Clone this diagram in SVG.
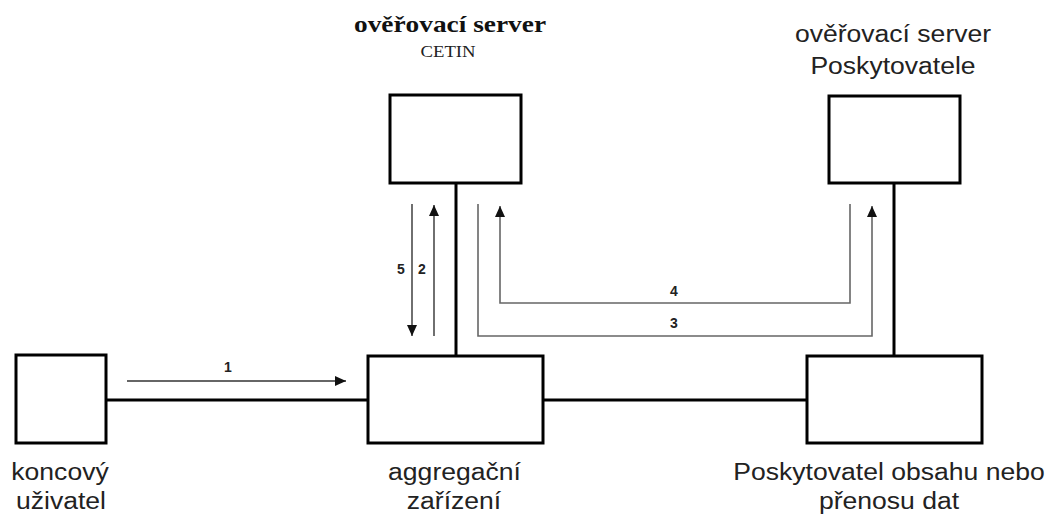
<svg xmlns="http://www.w3.org/2000/svg" width="1059" height="515" viewBox="0 0 1059 515">
  <style>
    .box { fill: #ffffff; stroke: #000000; stroke-width: 3; }
    .link { fill: none; stroke: #000000; stroke-width: 3; }
    .msg { fill: none; stroke: #333333; stroke-width: 1.4; }
    .msg2 { fill: none; stroke: #666666; stroke-width: 1.6; }
    .lbl { font-family: "Liberation Sans", Arial, sans-serif; font-size: 23.5px; fill: #222222; text-anchor: middle; }
    .num { font-family: "Liberation Sans", Arial, sans-serif; font-size: 14px; font-weight: bold; fill: #222222; text-anchor: middle; }
    .ttl { font-family: "Liberation Serif", "Times New Roman", serif; font-size: 24px; font-weight: bold; fill: #111111; text-anchor: middle; }
    .sub { font-family: "Liberation Serif", "Times New Roman", serif; font-size: 17px; fill: #222222; text-anchor: middle; }
  </style>
  <defs>
    <marker id="ah" markerUnits="userSpaceOnUse" markerWidth="11" markerHeight="10" refX="11" refY="5" orient="auto">
      <path d="M0,0 L11,5 L0,10 z" fill="#111111"/>
    </marker>
  </defs>
  <rect width="1059" height="515" fill="#ffffff"/>

  <g id="connectors">
    <line class="link" x1="106" y1="400" x2="368" y2="400"/>
    <line class="link" x1="543" y1="400" x2="807" y2="400"/>
    <line class="link" x1="456" y1="183" x2="456" y2="356"/>
    <line class="link" x1="894" y1="183" x2="894" y2="356"/>
    <line class="msg" x1="127" y1="381" x2="346" y2="381" marker-end="url(#ah)"/>
    <line class="msg" x1="412" y1="204" x2="412" y2="336" marker-end="url(#ah)"/>
    <line class="msg" x1="434" y1="336" x2="434" y2="205" marker-end="url(#ah)"/>
    <polyline class="msg2" points="478,204 478,336 872,336 872,206" marker-end="url(#ah)"/>
    <polyline class="msg2" points="850,204 850,303 500,303 500,206" marker-end="url(#ah)"/>
    <text class="num" x="228" y="372">1</text>
    <text class="num" x="422" y="274">2</text>
    <text class="num" x="401" y="274">5</text>
    <text class="num" x="674" y="328">3</text>
    <text class="num" x="674" y="296">4</text>
  </g>

  <g id="koncovy-uzivatel">
    <rect class="box" x="16" y="355" width="90" height="88"/>
    <text class="lbl" transform="translate(60,480) scale(1.13,1)">koncový</text>
    <text class="lbl" transform="translate(61,509) scale(1.13,1)">uživatel</text>
  </g>

  <g id="agregacni-zarizeni">
    <rect class="box" x="368" y="356" width="175" height="87"/>
    <text class="lbl" transform="translate(454.5,480) scale(1.13,1)">aggregační</text>
    <text class="lbl" transform="translate(454,509) scale(1.13,1)">zařízení</text>
  </g>

  <g id="poskytovatel">
    <rect class="box" x="807" y="356" width="175" height="87"/>
    <text class="lbl" transform="translate(889,480) scale(1.13,1)">Poskytovatel obsahu nebo</text>
    <text class="lbl" transform="translate(889,509) scale(1.13,1)">přenosu dat</text>
  </g>

  <g id="server-cetin">
    <rect class="box" x="390" y="95" width="131" height="88"/>
    <text class="ttl" transform="translate(450,32) scale(1.14,1)">ověřovací server</text>
    <text class="sub" transform="translate(448,57) scale(1.1,1)">CETIN</text>
  </g>

  <g id="server-poskytovatele">
    <rect class="box" x="829" y="96" width="131" height="87"/>
    <text class="lbl" transform="translate(893,42) scale(1.13,1)">ověřovací server</text>
    <text class="lbl" transform="translate(893,74) scale(1.13,1)">Poskytovatele</text>
  </g>
</svg>
